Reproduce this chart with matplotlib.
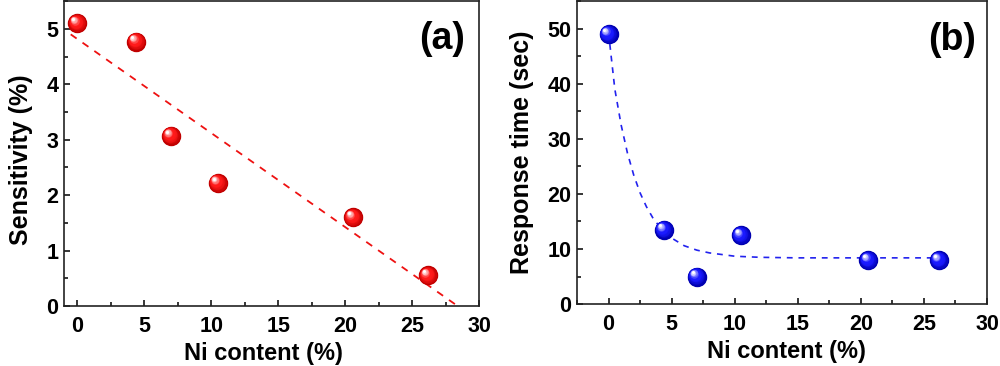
import matplotlib
matplotlib.use("Agg")
import matplotlib.pyplot as plt
import matplotlib.transforms as mtransforms
from matplotlib.ticker import MultipleLocator
import numpy as np

plt.rcParams['font.family'] = ['Liberation Sans', 'DejaVu Sans']
plt.rcParams['font.weight'] = 'bold'

# panel (a): sensitivity
ni_a = [0, 4.4, 7.0, 10.5, 20.6, 26.2]
sens = [5.1, 4.77, 3.07, 2.22, 1.6, 0.55]
fit_a_x = [-0.5, 28.4]
fit_a_y = [4.9, 0.0]

# panel (b): response time
ni_b = [0, 4.4, 7.0, 10.5, 20.6, 26.2]
resp = [49, 13.5, 5, 12.5, 8, 8]
fit_b_x = [0.1, 0.5, 1, 1.5, 2, 2.5, 3, 3.5, 4, 5, 6, 7, 8, 10, 12, 15, 20, 26.2]
fit_b_y = [47.2, 39.0, 32.5, 27.4, 23.4, 20.2, 17.7, 15.7, 14.2, 12.0, 10.6,
           9.8, 9.3, 8.7, 8.5, 8.4, 8.4, 8.4]


def spheres(ax, x, y, color, dark, ms=14):
    # stack shrinking, shifted circles to fake a shaded ball
    fig = ax.figure
    base = np.array(matplotlib.colors.to_rgb(color))
    dk = np.array(matplotlib.colors.to_rgb(dark))
    ax.plot(x, y, 'o', ms=ms, mfc=dark, mec='none', zorder=5)
    n = 12
    for i in range(n):
        f = i / (n - 1)
        s = ms * (0.95 - 0.8 * f)
        c = dk + (base - dk) * min(1, f * 2.5)
        if f > 0.55:
            w = (f - 0.55) / 0.45
            c = base + (np.ones(3) - base) * w
        dx = -ms * 0.22 * f
        dy = ms * 0.22 * f
        tr = mtransforms.offset_copy(ax.transData, fig=fig, x=dx, y=dy, units='points')
        ax.plot(x, y, 'o', ms=s, mfc=tuple(c), mec='none', transform=tr, zorder=6 + i)


def style(ax):
    ax.tick_params(which='both', direction='in', labelsize=15.5, width=1.1)
    ax.tick_params(which='major', length=4.5)
    ax.tick_params(which='minor', length=3)
    ax.tick_params(axis='x', pad=7)
    ax.tick_params(axis='y', pad=4)
    for sp in ax.spines.values():
        sp.set_linewidth(1.2)
        sp.set_color('#222222')
    for lab in ax.get_xticklabels() + ax.get_yticklabels():
        lab.set_fontweight('bold')


fig = plt.figure(figsize=(10, 3.66), dpi=100)
ax1 = fig.add_axes([0.064, 0.164, 0.415, 0.833])
ax2 = fig.add_axes([0.577, 0.169, 0.41, 0.828])

ax1.plot(fit_a_x, fit_a_y, color='#ee1111', lw=1.3, dashes=(4, 4), zorder=3)
spheres(ax1, ni_a, sens, '#ff1a1a', '#c00000')
ax1.set_xlim(-1, 30)
ax1.set_ylim(0, 5.5)
ax1.xaxis.set_major_locator(MultipleLocator(5))
ax1.xaxis.set_minor_locator(MultipleLocator(2.5))
ax1.yaxis.set_major_locator(MultipleLocator(1))
ax1.yaxis.set_minor_locator(MultipleLocator(0.5))
ax1.set_xlabel('Ni content (%)', fontsize=17, fontweight='bold', labelpad=4, x=0.481)
ax1.set_ylabel('Sensitivity (%)', fontsize=18, fontweight='bold', labelpad=10, y=0.48)
ax1.text(0.91, 0.877, '(a)', transform=ax1.transAxes, fontsize=27, fontweight='bold',
         ha='center', va='center')
style(ax1)

ax2.plot(fit_b_x, fit_b_y, color='#2222ee', lw=1.2, dashes=(3.5, 3.5), zorder=3)
spheres(ax2, ni_b, resp, '#1a1aff', '#0000b0')
ax2.set_xlim(-2.5, 30)
ax2.set_ylim(0, 55)
ax2.xaxis.set_major_locator(MultipleLocator(5))
ax2.xaxis.set_minor_locator(MultipleLocator(2.5))
ax2.yaxis.set_major_locator(MultipleLocator(10))
ax2.yaxis.set_minor_locator(MultipleLocator(5))
ax2.set_xlabel('Ni content (%)', fontsize=17, fontweight='bold', labelpad=4, x=0.51)
ax2.set_ylabel('Response time (sec)', fontsize=18, fontweight='bold', labelpad=10, y=0.5)
ax2.text(0.916, 0.87, '(b)', transform=ax2.transAxes, fontsize=27, fontweight='bold',
         ha='center', va='center')
style(ax2)

fig.savefig('out.png', dpi=100)
